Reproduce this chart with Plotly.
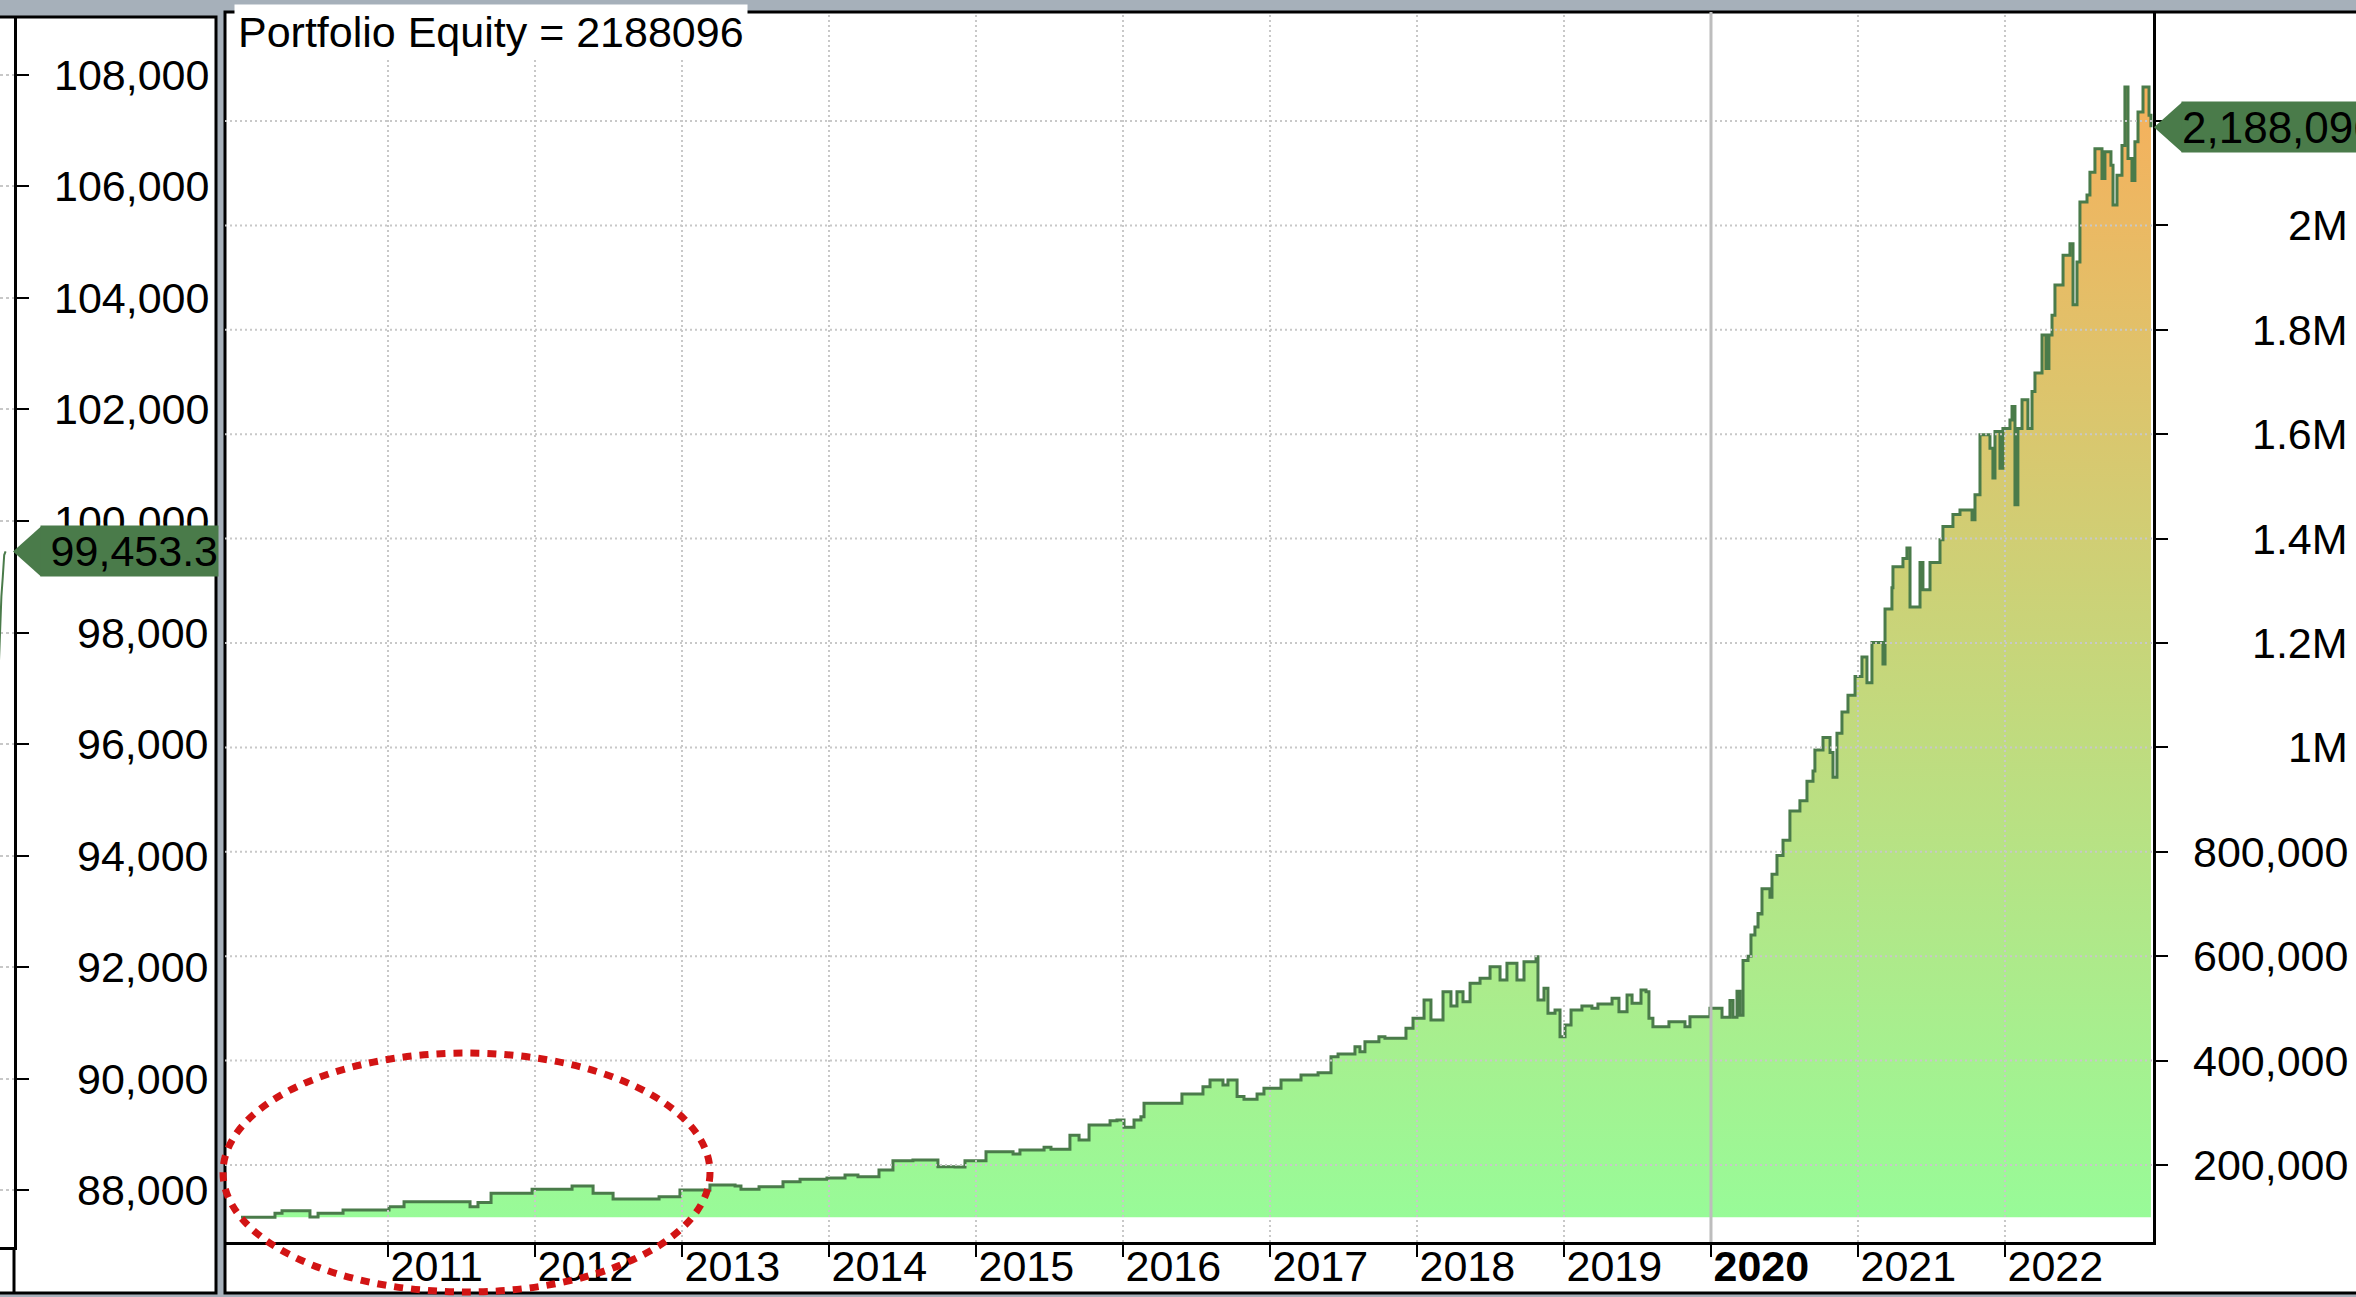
import plotly.graph_objects as go

W, H = 2356, 1297
FONT = "Arial, 'Liberation Sans', sans-serif"
BG = "#a6b0ba"
GREEN = "#4a7b4a"
GRID = "#c8c8c8"

# ---------------- data ----------------
initial_equity = 100000
final_equity = 2188096

equity_x = [
    2010.000, 2010.170, 2010.231, 2010.279, 2010.401, 2010.469, 2010.524, 2010.660, 2010.694, 2010.966,
    2011.007, 2011.109, 2011.524, 2011.558, 2011.612, 2011.701, 2011.803, 2011.980,
    2012.150, 2012.252, 2012.395, 2012.531, 2012.741, 2012.844, 2012.986,
    2013.054, 2013.190, 2013.361, 2013.401, 2013.449, 2013.524, 2013.612, 2013.687, 2013.755, 2013.803, 2013.918, 2013.986,
    2014.061, 2014.109, 2014.150, 2014.197, 2014.293, 2014.340, 2014.435, 2014.531, 2014.571, 2014.694, 2014.741, 2014.857, 2014.925, 2014.973,
    2015.068, 2015.163, 2015.252, 2015.299, 2015.415, 2015.463, 2015.510, 2015.605, 2015.639, 2015.701, 2015.769, 2015.864, 2015.912, 2015.959,
    2016.007, 2016.075, 2016.122, 2016.143, 2016.354, 2016.401, 2016.497, 2016.544, 2016.592, 2016.633, 2016.680, 2016.714, 2016.776, 2016.823, 2016.912, 2016.959,
    2017.027, 2017.075, 2017.190, 2017.211, 2017.279, 2017.327, 2017.374, 2017.415, 2017.463, 2017.531, 2017.578, 2017.612, 2017.646, 2017.694, 2017.741, 2017.782, 2017.878, 2017.925, 2017.973,
    2018.014, 2018.048, 2018.095, 2018.177, 2018.231, 2018.272, 2018.313, 2018.361, 2018.429, 2018.497, 2018.565, 2018.612, 2018.680, 2018.728, 2018.796, 2018.810, 2018.823, 2018.864, 2018.891, 2018.939, 2018.973,
    2019.007, 2019.048, 2019.122, 2019.190, 2019.231, 2019.306, 2019.327, 2019.374, 2019.429, 2019.463, 2019.524, 2019.558, 2019.578, 2019.605, 2019.673, 2019.714, 2019.789, 2019.823, 2019.857, 2019.946, 2019.993,
    2020.061, 2020.075, 2020.129, 2020.150, 2020.177, 2020.197, 2020.218, 2020.252, 2020.272, 2020.299,
    2020.320, 2020.333, 2020.347, 2020.388, 2020.401, 2020.415, 2020.435, 2020.449, 2020.483, 2020.490,
    2020.524, 2020.537, 2020.592, 2020.605, 2020.639, 2020.653, 2020.687, 2020.694, 2020.707, 2020.741,
    2020.762, 2020.789, 2020.810, 2020.830, 2020.857, 2020.891, 2020.912, 2020.932, 2020.959, 2020.980,
    2021.000, 2021.027, 2021.048, 2021.061, 2021.095, 2021.129, 2021.170, 2021.184, 2021.204, 2021.231,
    2021.238, 2021.286, 2021.306, 2021.333, 2021.354, 2021.388, 2021.422, 2021.442, 2021.469, 2021.490,
    2021.537, 2021.558, 2021.578, 2021.626, 2021.646, 2021.694, 2021.741, 2021.776, 2021.796, 2021.816,
    2021.830, 2021.878, 2021.898, 2021.918, 2021.932, 2021.952, 2021.966, 2021.986,
    2022.014, 2022.034, 2022.048, 2022.068, 2022.088, 2022.116, 2022.136, 2022.156, 2022.184, 2022.204,
    2022.224, 2022.252, 2022.279, 2022.299, 2022.320, 2022.340, 2022.361, 2022.395, 2022.429, 2022.442,
    2022.463, 2022.490, 2022.510, 2022.531, 2022.558, 2022.578, 2022.612, 2022.646, 2022.660, 2022.680,
    2022.701, 2022.721, 2022.735, 2022.762, 2022.796, 2022.816, 2022.837, 2022.864, 2022.884, 2022.905,
    2022.939, 2022.966, 2022.980, 2022.993,
]

equity_y = [
    100000, 100000, 107500, 112500, 112500, 100500, 107500, 107500, 113800, 113800,
    120000, 129700, 129700, 120000, 128000, 145800, 145800, 153400,
    153400, 159800, 145800, 134900, 134900, 139300, 152100,
    152100, 161700, 160000, 153400, 153400, 158400, 158400, 168000, 168000, 172600, 172600, 175000,
    175000, 180800, 180800, 177600, 177600, 190400, 208300, 208300, 209600, 209600, 196800, 196000, 208300, 208300,
    225500, 225500, 221000, 228700, 228700, 233900, 230000, 230000, 256900, 247900, 276600, 276600, 284900, 286200,
    272200, 286200, 292500, 318200, 318200, 336000, 336000, 350000, 362800, 362800, 353300, 363000, 331200, 325900, 336000, 346900,
    346900, 362800, 362800, 372400, 372400, 376800, 376800, 407500, 412600, 412600, 426600, 417000, 436200, 436200, 445800, 443000, 443000, 461900, 481000,
    481000, 516000, 477800, 532000, 504600, 532000, 512800, 548000, 557700, 579900, 554400, 586400, 554400, 589500, 589500, 599000, 516000, 538500, 490800, 497000, 445800,
    468200, 497000, 504600, 500400, 508400, 508400, 519400, 493700, 525700, 509900, 535200, 532000, 481000, 465000, 465000, 474500, 474500, 465000, 484100, 484100, 500400,
    500400, 483000, 515000, 483000, 533000, 487000, 592000, 600000, 640600, 656000,
    682000, 681000, 729000, 729000, 713000, 757000, 757000, 793000, 793000, 822000,
    822000, 878000, 878000, 898000, 898000, 935000, 935000, 955000, 995000, 995000,
    1019000, 1019000, 990000, 943000, 1027000, 1068000, 1068000, 1100000, 1100000, 1136000,
    1136000, 1173000, 1173000, 1124000, 1201000, 1201000, 1160000, 1265000, 1265000, 1306000,
    1346000, 1346000, 1362000, 1382000, 1269000, 1269000, 1354000, 1302000, 1302000, 1354000,
    1354000, 1398000, 1423000, 1423000, 1446000, 1455000, 1455000, 1436000, 1484000, 1484000,
    1599000, 1599000, 1573000, 1516000, 1605000, 1605000, 1535000, 1611000,
    1611000, 1627000, 1653000, 1465000, 1611000, 1666000, 1666000, 1611000, 1682000, 1717000,
    1717000, 1790000, 1726000, 1790000, 1828000, 1886000, 1886000, 1943000, 1943000, 1965000,
    1848000, 1930000, 2045000, 2045000, 2058000, 2102000, 2147000, 2147000, 2090000, 2141000,
    2141000, 2115000, 2039000, 2096000, 2153000, 2265000, 2128000, 2086000, 2160000, 2217000,
    2265000, 2265000, 2211000, 2188096,
]

# left (partially visible) pane
left_bars = [0, 1, 2, 3, 4, 5]
left_values = [97300, 98170, 98650, 99000, 99390, 99453.3]
left_last = 99453.3

year_ticks = [2011, 2012, 2013, 2014, 2015, 2016, 2017, 2018, 2019, 2020, 2021, 2022]
year_labels = ["2011", "2012", "2013", "2014", "2015", "2016", "2017", "2018", "2019",
               "<b>2020</b>", "2021", "2022"]
highlight_year = 2020

right_tick_vals = [200000, 400000, 600000, 800000, 1000000, 1200000, 1400000,
                   1600000, 1800000, 2000000, 2200000]
right_tick_labels = ["200,000", "400,000", "600,000", "800,000", "1M", "1.2M", "1.4M",
                     "1.6M", "1.8M", "2M", "2.2M"]
left_tick_vals = [88000, 90000, 92000, 94000, 96000, 98000, 100000, 102000, 104000,
                  106000, 108000]
left_tick_labels = ["88,000", "90,000", "92,000", "94,000", "96,000", "98,000", "100,000",
                    "102,000", "104,000", "106,000", "108,000"]


def px_x(p):
    return p / W


def px_y(p):
    return 1 - p / H


fig = go.Figure()

# baseline for the filled area
fig.add_trace(go.Scatter(
    x=[equity_x[0], equity_x[-1]], y=[initial_equity, initial_equity],
    mode="lines", line=dict(width=0, color="rgba(0,0,0,0)"),
    hoverinfo="skip", xaxis="x", yaxis="y"))
fig.add_trace(go.Scatter(
    x=equity_x, y=equity_y, mode="lines",
    line=dict(color=GREEN, width=3, shape="hv"),
    fill="tonexty",
    fillgradient=dict(type="vertical",
                      colorscale=[[0, "#98fb98"], [1, "#f6b05c"]],
                      start=initial_equity, stop=max(equity_y)),
    xaxis="x", yaxis="y"))

fig.add_trace(go.Scatter(
    x=left_bars, y=left_values, mode="lines",
    line=dict(color=GREEN, width=2), xaxis="x2", yaxis="y2"))

fig.update_layout(
    width=W, height=H, autosize=False,
    margin=dict(l=0, r=0, t=0, b=0),
    paper_bgcolor=BG, plot_bgcolor="rgba(0,0,0,0)",
    showlegend=False,
    font=dict(family=FONT, size=43, color="black"),
    xaxis=dict(
        domain=[px_x(225), px_x(2153)], range=[2009.891, 2023.007],
        anchor="y", tickvals=year_ticks, ticktext=year_labels,
        ticks="outside", ticklen=12, tickwidth=2, tickcolor="black",
        ticklabelposition="outside right", ticklabelstandoff=-16,
        tickfont=dict(family=FONT, size=43, color="black"),
        showline=True, linecolor="black", linewidth=3,
        showgrid=False, zeroline=False, fixedrange=True),
    yaxis=dict(
        domain=[px_y(1242), px_y(12)], range=[52500, 2408800],
        anchor="x", side="right", tickvals=right_tick_vals,
        ticks="outside", ticklen=12, tickwidth=2, tickcolor="black",
        showticklabels=False,
        showline=True, linecolor="black", linewidth=3,
        showgrid=False, zeroline=False, fixedrange=True),
    xaxis2=dict(
        domain=[0, px_x(14)], range=[1, 11], anchor="y2",
        showline=True, linecolor="black", linewidth=3,
        showticklabels=False, ticks="", showgrid=False, zeroline=False, fixedrange=True),
    yaxis2=dict(
        domain=[px_y(1247), px_y(17)], range=[86978, 109040],
        anchor="x2", side="right", tickvals=left_tick_vals,
        ticks="outside", ticklen=12, tickwidth=2, tickcolor="black",
        showticklabels=False,
        showline=True, linecolor="black", linewidth=3,
        showgrid=True, gridcolor=GRID, griddash="dot", gridwidth=2,
        zeroline=False, fixedrange=True),
)

shapes = []
# pane backgrounds
shapes.append(dict(type="rect", xref="paper", yref="paper",
                   x0=px_x(-10), x1=px_x(216), y0=px_y(1293), y1=px_y(17),
                   fillcolor="white", line=dict(color="black", width=3), layer="below"))
shapes.append(dict(type="rect", xref="paper", yref="paper",
                   x0=px_x(225), x1=px_x(2380), y0=px_y(1293), y1=px_y(12),
                   fillcolor="white", line=dict(color="black", width=3), layer="below"))
# left axis line continues down through the date area
shapes.append(dict(type="line", xref="paper", yref="paper",
                   x0=px_x(14), x1=px_x(14), y0=px_y(1293), y1=px_y(1247),
                   line=dict(color="black", width=3)))
# grid drawn over the filled area
for v in right_tick_vals:
    shapes.append(dict(type="line", xref="x domain", yref="y", x0=0, x1=1, y0=v, y1=v,
                       line=dict(color=GRID, width=2, dash="2px,3px"), layer="above"))
for yv in year_ticks:
    if yv == highlight_year:
        shapes.append(dict(type="line", xref="x", yref="y domain", x0=yv, x1=yv, y0=0, y1=1,
                           line=dict(color="#bdbdbd", width=3), layer="above"))
    else:
        shapes.append(dict(type="line", xref="x", yref="y domain", x0=yv, x1=yv, y0=0, y1=1,
                           line=dict(color=GRID, width=2, dash="2px,3px"), layer="above"))
# value-label pointers
shapes.append(dict(type="path", xref="paper", yref="y", xsizemode="pixel", ysizemode="pixel",
                   xanchor=px_x(2154), yanchor=final_equity,
                   path="M 0 0 L 28 25 L 28 -25 Z", fillcolor=GREEN,
                   line=dict(width=0), layer="above"))
shapes.append(dict(type="path", xref="paper", yref="y2", xsizemode="pixel", ysizemode="pixel",
                   xanchor=px_x(13), yanchor=left_last,
                   path="M 0 0 L 28 25 L 28 -25 Z", fillcolor=GREEN,
                   line=dict(width=0), layer="above"))
# red dotted ellipse highlight
shapes.append(dict(type="circle", xref="paper", yref="paper",
                   x0=px_x(223), x1=px_x(710), y0=px_y(1292), y1=px_y(1053),
                   line=dict(color="#d21414", width=7, dash="9px,8px"), layer="above"))

annotations = []
annotations.append(dict(
    text=f"Portfolio Equity = {final_equity}", x=px_x(234), y=px_y(4),
    xref="paper", yref="paper", xanchor="left", yanchor="top", showarrow=False,
    font=dict(family=FONT, size=43, color="black"), bgcolor="white", borderpad=3))
for v, t in zip(left_tick_vals, left_tick_labels):
    annotations.append(dict(text=t, x=px_x(211), y=v, xref="paper", yref="y2",
                            xanchor="right", yanchor="middle", showarrow=False,
                            font=dict(family=FONT, size=43, color="black")))
for v, t in zip(right_tick_vals, right_tick_labels):
    annotations.append(dict(text=t, x=px_x(2350), y=v, xref="paper", yref="y",
                            xanchor="right", yanchor="middle", showarrow=False,
                            font=dict(family=FONT, size=43, color="black")))
# value label boxes (drawn after tick labels so they cover them)
annotations.append(dict(text=f"{final_equity:,}", x=px_x(2181), y=final_equity,
                        xref="paper", yref="y", xanchor="left", yanchor="middle",
                        showarrow=False, width=230, height=50, align="left",
                        bgcolor=GREEN, borderpad=0,
                        font=dict(family=FONT, size=44, color="black")))
annotations.append(dict(text=f"{left_last:,.1f}", x=px_x(40), y=left_last,
                        xref="paper", yref="y2", xanchor="left", yanchor="middle",
                        showarrow=False, width=177, height=50, align="right",
                        bgcolor=GREEN, borderpad=0,
                        font=dict(family=FONT, size=43, color="black")))

fig.update_layout(shapes=shapes, annotations=annotations)

post = (
    "var de=document.documentElement,b=document.body;"
    "de.style.margin='0';de.style.padding='0';de.style.overflow='hidden';"
    "b.style.margin='0';b.style.padding='0';b.style.overflow='hidden';"
)
fig.write_html("out.html", config={"displayModeBar": False}, post_script=post)
